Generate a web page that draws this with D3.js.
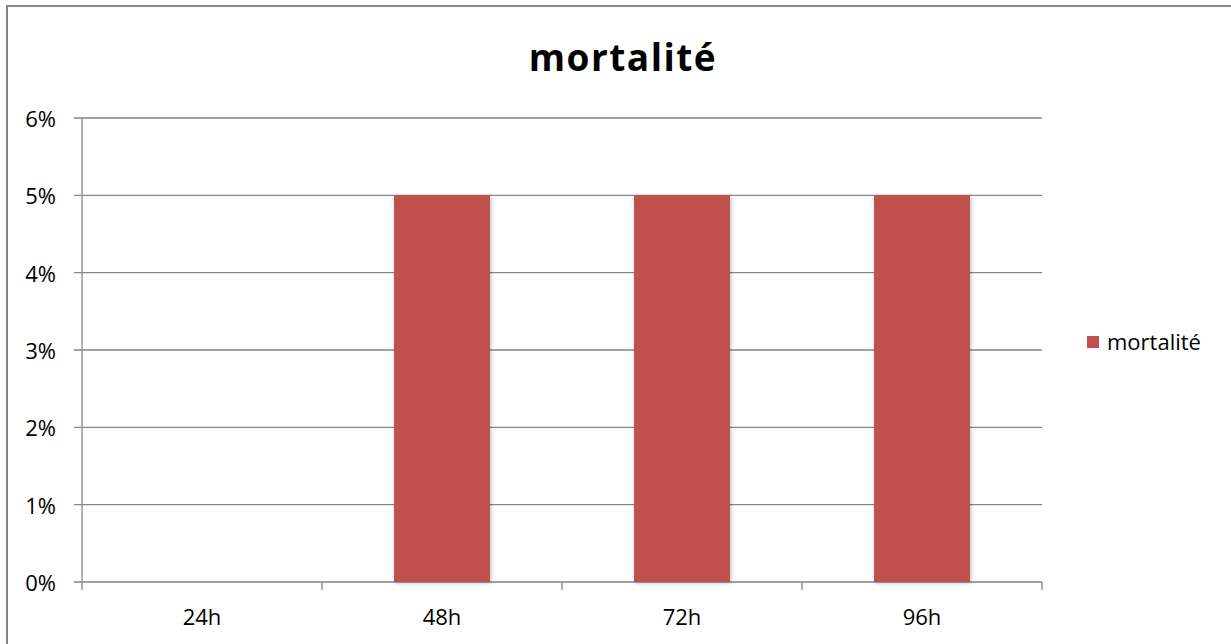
<!DOCTYPE html>
<html>
<head>
<meta charset="utf-8">
<script src="https://cdn.jsdelivr.net/npm/d3@7"></script>
<style>
  body { margin: 0; background: #fff; }
  text { font-family: "Open Sans", Lato, sans-serif; fill: #000; }
  .tick text { font-size: 22px; }
</style>
</head>
<body>
<script>
// chart data
const categories = ["24h", "48h", "72h", "96h"];
const values = [0, 0.05, 0.05, 0.05];
const yTicks = [0, 0.01, 0.02, 0.03, 0.04, 0.05, 0.06];
const seriesName = "mortalité";
const title = "mortalité";

const width = 1231;
const height = 644;
const plotLeft = 82, plotRight = 1042, plotTop = 118, plotBottom = 582;
const barColor = "#C0504D";

const svg = d3.select("body").append("svg")
    .attr("width", width)
    .attr("height", height);

// soft shadow around bars
const defs = svg.append("defs");
const f = defs.append("filter").attr("id", "shadow")
    .attr("x", "-20%").attr("y", "-5%").attr("width", "140%").attr("height", "110%");
f.append("feDropShadow")
    .attr("dx", 1).attr("dy", 1).attr("stdDeviation", 2)
    .attr("flood-color", "#000").attr("flood-opacity", 0.25);

// outer chart border (only top/left visible)
svg.append("rect")
    .attr("x", 7).attr("y", 6)
    .attr("width", width + 20).attr("height", height + 20)
    .attr("fill", "none").attr("stroke", "#868686").attr("stroke-width", 2);

//Scales
const xScale = d3.scaleBand()
    .domain(categories)
    .range([plotLeft, plotRight])
    .paddingInner(0.6)
    .paddingOuter(0.3);

const xEdges = d3.scaleLinear().domain([0, categories.length]).range([plotLeft, plotRight]);

const yScale = d3.scaleLinear()
    .domain([0, 0.06])
    .range([plotBottom, plotTop]);

//Gridlines
svg.append("g")
    .selectAll("line")
    .data(yTicks)
    .join("line")
    .attr("x1", plotLeft - 8).attr("x2", plotRight)
    .attr("y1", d => yScale(d)).attr("y2", d => yScale(d))
    .attr("stroke", "#868686").attr("stroke-width", 1.3);

//Bars
svg.append("g")
    .selectAll("rect")
    .data(values)
    .join("rect")
    .attr("x", (d, i) => xScale(categories[i]))
    .attr("y", d => yScale(d))
    .attr("width", xScale.bandwidth())
    .attr("height", d => plotBottom - yScale(d))
    .attr("fill", barColor)
    .attr("filter", "url(#shadow)")
    .style("display", d => d > 0 ? null : "none");

//Axes
const leftAxis = d3.axisLeft(yScale)
    .tickValues(yTicks)
    .tickFormat(d => Math.round(d * 100) + "%")
    .tickSize(0)
    .tickPadding(26);

const gy = svg.append("g")
    .attr("transform", "translate(" + plotLeft + ",0)")
    .call(leftAxis);
gy.select(".domain").remove();
gy.selectAll(".tick text").attr("dy", "0.38em");

svg.append("line")
    .attr("x1", plotLeft).attr("x2", plotLeft)
    .attr("y1", plotTop).attr("y2", plotBottom + 8)
    .attr("stroke", "#868686").attr("stroke-width", 1.3);

// category tick marks at band edges
svg.append("g")
    .selectAll("line")
    .data(d3.range(1, categories.length + 1))
    .join("line")
    .attr("x1", d => xEdges(d)).attr("x2", d => xEdges(d))
    .attr("y1", plotBottom).attr("y2", plotBottom + 8)
    .attr("stroke", "#868686").attr("stroke-width", 1.3);

const bottomAxis = d3.axisBottom(xScale).tickSize(0).tickPadding(27);
const gx = svg.append("g")
    .attr("transform", "translate(0," + plotBottom + ")")
    .call(bottomAxis);
gx.select(".domain").remove();

//Header
svg.append("text")
    .attr("x", 623)
    .attr("y", 71)
    .attr("text-anchor", "middle")
    .style("font-size", "37px")
    .style("font-weight", "bold")
    .style("letter-spacing", "1.5px")
    .text(title);

//Legend
svg.append("rect")
    .attr("x", 1087).attr("y", 336)
    .attr("width", 12).attr("height", 12)
    .attr("fill", barColor);
svg.append("text")
    .attr("x", 1107).attr("y", 350)
    .style("font-size", "22px")
    .text(seriesName);
</script>
</body>
</html>
